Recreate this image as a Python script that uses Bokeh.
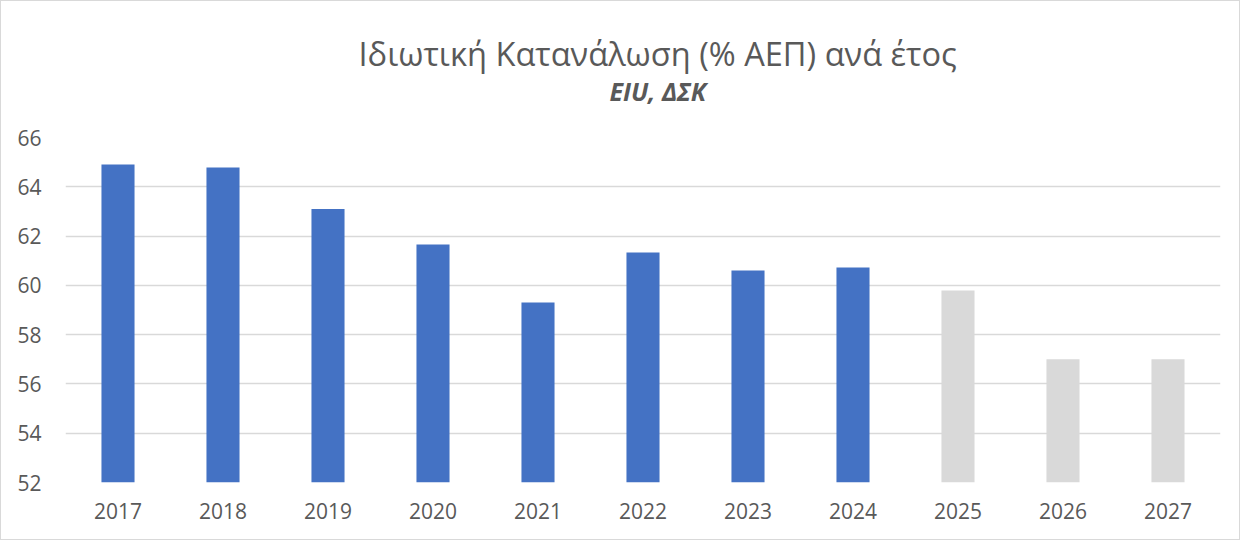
from bokeh.plotting import figure
from bokeh.models import ColumnDataSource, FixedTicker, Title, FactorRange, Range1d
from bokeh.embed import file_html
from bokeh.resources import INLINE

years = ["2017", "2018", "2019", "2020", "2021", "2022", "2023", "2024", "2025", "2026", "2027"]
values = [64.9, 64.78, 63.1, 61.66, 59.3, 61.33, 60.6, 60.72, 59.79, 57.0, 57.0]
forecast = [False] * 8 + [True] * 3
y_ticks = [52, 54, 56, 58, 60, 62, 64, 66]
title_text = "Ιδιωτική Κατανάλωση (% ΑΕΠ) ανά έτος"
subtitle_text = "EIU, ΔΣΚ"

BLUE = "#4472C4"
GREY = "#D9D9D9"
TEXT = "#595959"
FONT = "Open Sans"

colors = [GREY if f else BLUE for f in forecast]
src = ColumnDataSource(dict(x=years, top=values, color=colors))

p = figure(
    x_range=FactorRange(*years, range_padding=0),
    y_range=Range1d(52, 66),
    width=1240, height=540,
    output_backend="svg", toolbar_location=None,
    min_border_left=64, min_border_right=21,
    min_border_top=136, min_border_bottom=59,
)
p.styles = {"border": "1px solid #D9D9D9"}
p.outline_line_color = None
p.background_fill_color = "white"
p.border_fill_color = "white"

p.vbar(x="x", top="top", bottom=52, width=0.315, color="color", line_color=None, source=src)

p.xgrid.grid_line_color = None
p.ygrid.grid_line_color = GREY
p.ygrid.grid_line_width = 1.3
p.yaxis.ticker = FixedTicker(ticks=y_ticks)

for ax in (p.xaxis, p.yaxis):
    ax.axis_line_color = None
    ax.major_tick_line_color = None
    ax.minor_tick_line_color = None
    ax.major_label_text_font = FONT
    ax.major_label_text_font_size = "21px"
    ax.major_label_text_color = TEXT
p.yaxis.major_label_standoff = 18
p.xaxis.major_label_standoff = 14

sub = Title(text=subtitle_text, align="left", offset=544,
            text_font=FONT, text_font_size="25px", text_font_style="bold italic",
            text_color=TEXT)
main = Title(text=title_text, align="left", offset=293,
             text_font=FONT, text_font_size="32.6px", text_font_style="normal",
             text_color=TEXT)
if hasattr(sub, "standoff"):
    sub.standoff = 59
    main.standoff = -66
p.add_layout(sub, "above")
p.add_layout(main, "above")

open("out.html", "w").write(file_html(p, INLINE))
